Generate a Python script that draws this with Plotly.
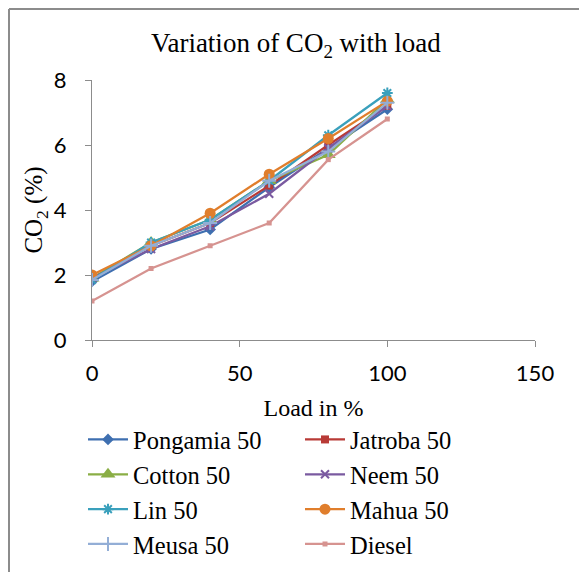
import plotly.graph_objects as go

load = [0, 20, 40, 60, 80, 100]
pongamia = [1.8, 2.8, 3.4, 4.7, 5.9, 7.1]
jatroba = [1.9, 2.9, 3.6, 4.75, 6.0, 7.2]
cotton = [1.9, 3.0, 3.7, 4.9, 5.7, 7.4]
neem = [1.9, 2.8, 3.5, 4.5, 5.9, 7.2]
lin = [1.85, 3.0, 3.7, 4.9, 6.3, 7.6]
mahua = [2.0, 2.9, 3.9, 5.1, 6.2, 7.35]
meusa = [1.85, 2.9, 3.6, 4.9, 5.8, 7.3]
diesel = [1.2, 2.2, 2.9, 3.6, 5.55, 6.8]

series = [
    ("Pongamia 50", pongamia, "#3E6FB0", "diamond", 9),
    ("Jatroba 50", jatroba, "#B83A36", "square", 8),
    ("Cotton 50", cotton, "#8AAE45", "triangle-up", 13),
    ("Neem 50", neem, "#7A5AA0", "x-thin-open", 8),
    ("Lin 50", lin, "#3AA0BC", "asterisk-open", 9),
    ("Mahua 50", mahua, "#E07E2C", "circle", 11),
    ("Meusa 50", meusa, "#93AED6", "cross-thin-open", 10),
    ("Diesel", diesel, "#D69390", "square", 5),
]

fig = go.Figure()
for name, vals, color, sym, size in series:
    fig.add_trace(go.Scatter(
        x=load, y=vals, name=name, mode="lines+markers",
        line=dict(color=color, width=2.25),
        marker=dict(symbol=sym, size=size, color=color,
                    line=dict(color=color, width=2 if "open" in sym else 0)),
    ))

axis_common = dict(
    showline=True, linecolor="#8C8C8C", linewidth=1.3,
    ticks="outside", tickcolor="#8C8C8C", ticklen=6, tickwidth=1.3,
    showgrid=False, zeroline=False,
    tickfont=dict(family="Lato, Liberation Sans, sans-serif", size=22, color="black"),
)

W, H = 579, 572
L, R, T, B = 92, 44, 80, 232
pw, ph = W - L - R, H - T - B

fig.update_layout(
    width=W, height=H,
    margin=dict(l=L, r=R, t=T, b=B, autoexpand=False),
    paper_bgcolor="white", plot_bgcolor="white",
    title=dict(text="Variation of CO<sub>2</sub> with load",
               font=dict(family="Liberation Serif, Times New Roman, serif", size=27, color="black"),
               x=0.511, xanchor="center", y=1 - 43 / H, yanchor="middle"),
    xaxis=dict(range=[0, 150], tickvals=[0, 50, 100, 150], ticklabelstandoff=7,
               title=dict(text="Load in %", standoff=14,
                          font=dict(family="Liberation Serif, serif", size=24, color="black")),
               **axis_common),
    yaxis=dict(range=[0, 8], tickvals=[0, 2, 4, 6, 8], ticklabelstandoff=14,
               title=dict(text="CO<sub>2</sub> (%)", standoff=3,
                          font=dict(family="Liberation Serif, serif", size=25, color="black")),
               **axis_common),
    legend=dict(orientation="h", x=(83 - L) / pw, xanchor="left", y=-(417 - (H - B)) / ph, yanchor="top",
                entrywidth=162, entrywidthmode="pixels",
                font=dict(family="Liberation Serif, serif", size=24.5, color="black"),
                itemwidth=40, tracegroupgap=0),
    showlegend=True,
    shapes=[
        dict(type="line", xref="paper", yref="paper", x0=(9 - L) / pw, x1=(W - L) / pw,
             y0=(H - B - 9) / ph, y1=(H - B - 9) / ph, line=dict(color="#8C8C8C", width=2)),
        dict(type="line", xref="paper", yref="paper", x0=(9 - L) / pw, x1=(9 - L) / pw,
             y0=(H - B - 9) / ph, y1=-B / ph, line=dict(color="#8C8C8C", width=2)),
    ],
)

fig.write_html("out.html", config={"displayModeBar": False},
               post_script="document.body.style.margin='0';document.body.style.overflow='hidden';")
